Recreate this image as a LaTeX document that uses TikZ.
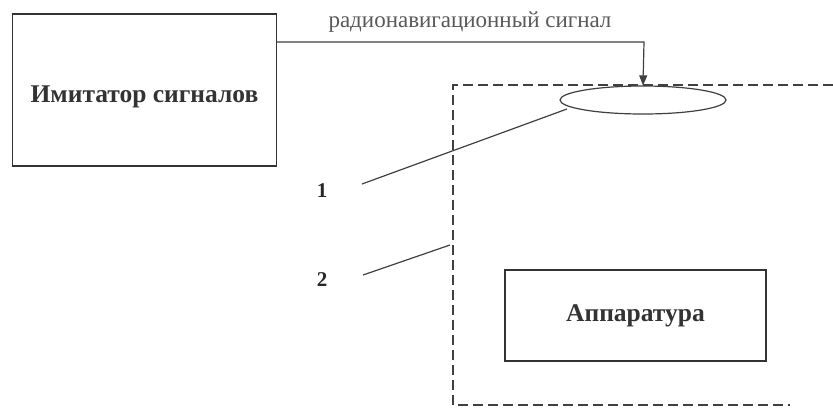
\documentclass[tikz,border=0pt]{standalone}
\usepackage{fontspec}
\setmainfont{Liberation Serif}
\usetikzlibrary{arrows.meta,shapes.geometric}
\begin{document}
\begin{tikzpicture}[x=1pt,y=-1pt,
  box/.style={draw=black!80,line width=1.3pt,inner sep=0pt},
  thinline/.style={draw=black!75,line width=1.2pt},
  dashline/.style={draw=black!75,line width=1.3pt,dash pattern=on 10pt off 5pt},
  bigtext/.style={font=\fontsize{25.5}{28}\selectfont\bfseries,text=black!80},
  numtext/.style={font=\fontsize{21}{24}\selectfont\bfseries,text=black!85},
  smalltext/.style={font=\fontsize{23}{26}\selectfont,text=black!65}]
\useasboundingbox[fill=white] (0,0) rectangle (833,408);
% Imitator box
\node[box,minimum width=264pt,minimum height=152pt] (imit) at (144.5,90) {};
\node[bigtext] (imittxt) at (144.5,97) {Имитатор сигналов};
% dashed enclosure
\coordinate (dtl) at (453,85);
\coordinate (dtr) at (833,85);
\coordinate (dbl) at (453,405);
\coordinate (dbr) at (790,405);
\draw[dashline] (dtr) -- (dtl) -- (dbl) -- (dbr);
% antenna ellipse
\node[draw=black!75,line width=1.2pt,ellipse,minimum width=166pt,minimum height=28pt,inner sep=0pt,fill=white] (ant) at (643,100) {};
% signal connector
\coordinate (sigstart) at (imit.east |- 0,42);
\draw[thinline,-{Triangle[length=10pt,width=8pt]}] (sigstart) -- (644,42) -- (ant.north);
\node[smalltext] (siglabel) at (470,22) {радионавигационный сигнал};
% apparatus box
\node[box,minimum width=261pt,minimum height=91pt] (app) at (635.5,315.5) {};
\node[bigtext] (apptxt) at (635.5,316) {Аппаратура};
% callouts
\node[numtext] (n1) at (322,191) {1};
\node[numtext] (n2) at (322,280) {2};
\coordinate (c1s) at (362,184);
\coordinate (c1e) at (567,109);
\coordinate (c2s) at (363,275);
\coordinate (c2e) at (450,245);
\draw[thinline] (c1s) -- (c1e);
\draw[thinline] (c2s) -- (c2e);
\end{tikzpicture}
\end{document}
